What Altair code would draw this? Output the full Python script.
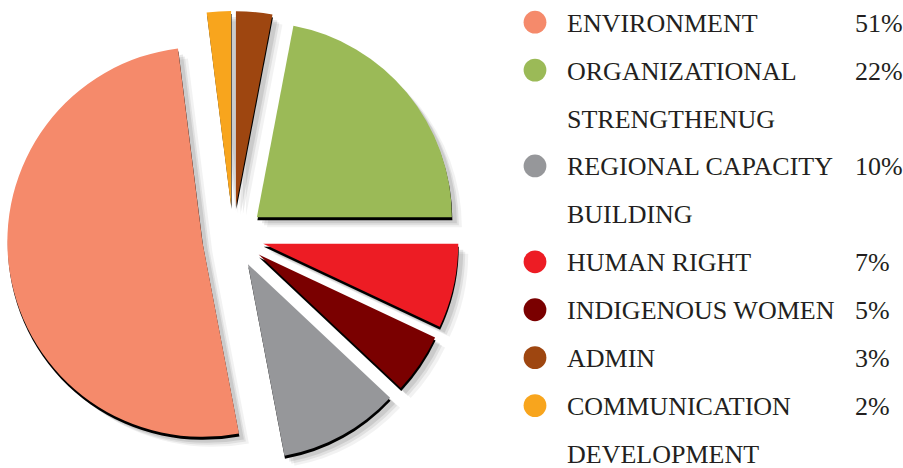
import altair as alt
import pandas as pd

# ---- data ----
categories = ["ENVIRONMENT", "ORGANIZATIONAL STRENGTHENUG", "REGIONAL CAPACITY BUILDING",
              "HUMAN RIGHT", "INDIGENOUS WOMEN", "ADMIN", "COMMUNICATION DEVELOPMENT"]
label_lines = [["ENVIRONMENT"], ["ORGANIZATIONAL", "STRENGTHENUG"], ["REGIONAL CAPACITY", "BUILDING"],
               ["HUMAN RIGHT"], ["INDIGENOUS WOMEN"], ["ADMIN"], ["COMMUNICATION", "DEVELOPMENT"]]
values = [51, 22, 10, 7, 5, 3, 2]
pie_order = [6, 2, 5, 3, 4, 1, 7]  # clockwise order from 12 o'clock
colors = ["#F58A6B", "#9BBA57", "#96979A", "#ED1C24", "#7A0000", "#9E4610", "#F8A51D"]

# ---- layout constants ----
CX, CY, R, EXPLODE = 233, 237, 195, 31
FONT = "Liberation Serif"
TEXT_COLOR = "#231F20"

pie_df = pd.DataFrame({"cat": categories, "value": values, "ord": pie_order})

item_rows, line_rows = [], []
r = 0
for cat, lines, v in zip(categories, label_lines, values):
    item_rows.append({"cat": cat, "row": r, "pct": f"{v}%"})
    for ln in lines:
        line_rows.append({"cat": cat, "row": r, "text": ln})
        r += 1
items_df = pd.DataFrame(item_rows)
lines_df = pd.DataFrame(line_rows)

color_scale = alt.Scale(domain=categories, range=colors)

base = (
    alt.Chart(pie_df)
    .transform_joinaggregate(total="sum(value)")
    .transform_window(cum="sum(value)", sort=[alt.SortField("ord")], frame=[None, 0])
    .transform_calculate(
        t1="datum.cum / datum.total * 2 * PI",
        t0="(datum.cum - datum.value) / datum.total * 2 * PI",
    )
    .transform_calculate(mid="(datum.t0 + datum.t1) / 2")
    .transform_calculate(
        cx=f"{CX} + {EXPLODE} * sin(datum.mid)",
        cy=f"{CY} - {EXPLODE} * cos(datum.mid)",
    )
)
enc = dict(
    theta=alt.Theta("t0:Q", scale=None),
    theta2=alt.Theta2("t1:Q"),
    x=alt.X("cx:Q", scale=None, axis=None),
    y=alt.Y("cy:Q", scale=None, axis=None),
)

glow_layers = [
    base.mark_arc(radius=R, color="#000000", opacity=op, xOffset=dx, yOffset=dy).encode(**enc)
    for dx, dy, op in [(10, 10, 0.05), (7, 8, 0.07), (5, 6, 0.09)]
]
black_shadow = base.mark_arc(radius=R, color="#000000", xOffset=0.5, yOffset=3).encode(**enc)
slices = base.mark_arc(radius=R).encode(
    color=alt.Color("cat:N", scale=color_scale, legend=None), **enc
)

yscale = alt.Scale(domain=[0, r - 1], range=[31.7, 463], nice=False, zero=False)

circles = alt.Chart(items_df).mark_circle(size=520, opacity=1, yOffset=-9.5).encode(
    x=alt.value(535),
    y=alt.Y("row:Q", scale=yscale, axis=None),
    color=alt.Color("cat:N", scale=color_scale, legend=None),
)
labels = alt.Chart(lines_df).mark_text(
    align="left", baseline="alphabetic", font=FONT, fontSize=26, color=TEXT_COLOR
).encode(
    x=alt.value(567),
    y=alt.Y("row:Q", scale=yscale, axis=None),
    text="text:N",
)
pcts = alt.Chart(items_df).mark_text(
    align="left", baseline="alphabetic", font=FONT, fontSize=26, color=TEXT_COLOR
).encode(
    x=alt.value(855),
    y=alt.Y("row:Q", scale=yscale, axis=None),
    text="pct:N",
)

pie = alt.layer(*glow_layers, black_shadow, slices)
legend = alt.layer(circles, labels, pcts)

chart = (
    alt.layer(pie, legend)
    .resolve_scale(x="independent", y="independent")
    .properties(width=903, height=468, autosize=alt.AutoSizeParams(type="none"), padding=0,
                background="white")
    .configure_view(stroke=None)
)

chart.save("out.html", embed_options={"renderer": "svg", "actions": False})
